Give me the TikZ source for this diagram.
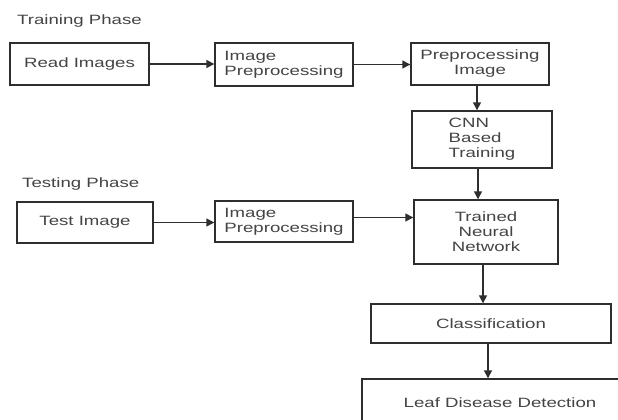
\documentclass[tikz,border=0pt]{standalone}
\usepackage{fontspec}
\setmainfont{Liberation Sans}[FakeStretch=1.38]
\usetikzlibrary{arrows.meta}
\definecolor{lc}{HTML}{2E2E2E}
\definecolor{tc}{HTML}{444444}
\begin{document}
\begin{tikzpicture}[x=1pt,y=-1pt,
  box/.style={draw=lc,line width=1.4pt,inner sep=2pt,text=tc,font=\fontsize{13.5}{15}\selectfont},
  lbl/.style={text=tc,font=\fontsize{13.5}{15}\selectfont,anchor=west,inner sep=0pt},
  arr/.style={draw=lc,line width=1.4pt,-{Triangle[length=8pt,width=8pt]}}]
\clip (0,0) rectangle (618,420);
\fill[white] (0,0) rectangle (618,420);
\node[lbl] (trp) at (17,21) {Training Phase};
\node[lbl] (tep) at (22,184) {Testing Phase};
\node[box,minimum width=139,minimum height=42] (read) at (79.5,64) {Read Images};
\node[box,minimum width=138,minimum height=43,align=left] (ip1) at (284,64.5) {Image\\Preprocessing};
\node[box,minimum width=138,minimum height=42,align=center] (pi) at (480,64) {Preprocessing\\Image};
\node[box,minimum width=140,minimum height=57,align=left] (cnn) at (482,139.5) {CNN\\Based\\Training};
\node[box,minimum width=136,minimum height=41] (test) at (85,222.5) {Test Image};
\node[box,minimum width=138,minimum height=41,align=left] (ip2) at (284,221.5) {Image\\Preprocessing};
\node[box,minimum width=144,minimum height=64,align=center] (tnn) at (486,232) {Trained\\Neural\\Network};
\node[box,minimum width=240,minimum height=39] (cls) at (491,323.5) {Classification};
\node[box,minimum width=276,minimum height=48] (leaf) at (500,403) {Leaf Disease Detection};
\draw[arr] (read.east) -- (read.east -| ip1.west);
\draw[arr] (ip1.east) -- (ip1.east -| pi.west);
\draw[arr] ([xshift=-3pt]pi.south) -- ([xshift=-3pt]pi.south |- cnn.north);
\draw[arr] ([xshift=-4pt]cnn.south) -- ([xshift=-4pt]cnn.south |- tnn.north);
\draw[arr] (test.east) -- (test.east -| ip2.west);
\draw[arr] ([yshift=4pt]ip2.east) -- ([yshift=4pt]ip2.east -| tnn.west);
\draw[arr] ([xshift=-3pt]tnn.south) -- ([xshift=-3pt]tnn.south |- cls.north);
\draw[arr] ([xshift=-3pt]cls.south) -- ([xshift=-3pt]cls.south |- leaf.north);
\end{tikzpicture}
\end{document}
